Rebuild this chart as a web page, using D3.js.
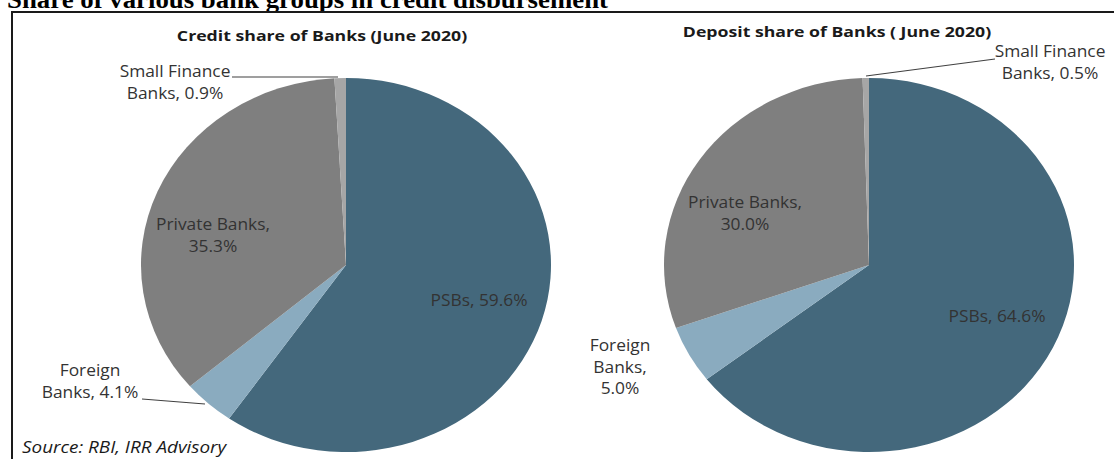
<!DOCTYPE html>
<html lang="en">
<head>
  <meta charset="UTF-8">
  <title>Share of various bank groups in credit disbursement</title>
  <script src="https://cdn.jsdelivr.net/npm/d3@7"></script>
  <style>
    body {
      margin: 0;
      padding: 0;
      background: #fff;
    }
    svg text {
      font-family: "Open Sans", sans-serif;
    }
  </style>
</head>
<body>
  <svg id="chart" width="1114" height="459"></svg>

  <script>
    // data
    var categories = ["PSBs", "Foreign Banks", "Private Banks", "Small Finance Banks"];
    var creditShares = [59.6, 4.1, 35.3, 0.9];
    var depositShares = [64.6, 5.0, 30.0, 0.5];

    var colors = ["#44687c", "#8aabbf", "#7f7f7f", "#a6a6a6"];

    // label layout (each label line + optional leader line)
    var creditLabels = [
      { lines: ["PSBs, 59.6%"], x: 479, y: 302 },
      { lines: ["Foreign", "Banks, 4.1%"], x: 90, y: 372, leader: [[142, 399], [205, 404]] },
      { lines: ["Private Banks,", "35.3%"], x: 213, y: 226 },
      { lines: ["Small Finance", "Banks, 0.9%"], x: 175, y: 73, leader: [[232, 77], [338, 77]] }
    ];
    var depositLabels = [
      { lines: ["PSBs, 64.6%"], x: 997, y: 318 },
      { lines: ["Foreign", "Banks,", "5.0%"], x: 620, y: 347 },
      { lines: ["Private Banks,", "30.0%"], x: 745, y: 204 },
      { lines: ["Small Finance", "Banks, 0.5%"], x: 1050, y: 53, leader: [[995, 59], [866, 76]] }
    ];

    var svg = d3.select("#chart");

    // text stretched a bit sideways, the source image is wider than the font
    function stretchedText(x, y, sx) {
      return svg.append("text")
        .attr("transform", "translate(" + x + "," + y + ") scale(" + sx + ",1)");
    }

    // page heading (cut off at top like the source)
    svg.append("text")
      .attr("x", 7)
      .attr("y", 8)
      .style("font-family", "'Liberation Serif', 'Times New Roman', serif")
      .attr("font-size", 25)
      .attr("font-weight", "bold")
      .attr("fill", "#000")
      .attr("textLength", 601)
      .attr("lengthAdjust", "spacingAndGlyphs")
      .text("Share of various bank groups in credit disbursement");

    // frame
    svg.append("path")
      .attr("d", "M12,470 L12,12 L1120,12")
      .attr("fill", "none")
      .attr("stroke", "#1a1a1a")
      .attr("stroke-width", 2);

    var rx = 205, ry = 187;
    var pie = d3.pie().sort(null).value(d => d.value);
    var arc = d3.arc().innerRadius(0).outerRadius(rx);

    function drawPie(title, titleX, titleY, values, cx, cy, labels) {
      var data = categories.map((c, i) => ({ name: c, value: values[i], color: colors[i] }));

      stretchedText(titleX, titleY, 1.18)
        .attr("text-anchor", "middle")
        .attr("dominant-baseline", "middle")
        .attr("font-size", 15)
        .attr("font-weight", "bold")
        .attr("fill", "#1a1a1a")
        .text(title);

      var g = svg.append("g")
        .attr("transform", "translate(" + cx + "," + cy + ") scale(1," + (ry / rx) + ")");

      g.selectAll("path")
        .data(pie(data))
        .enter()
        .append("path")
        .attr("d", arc)
        .attr("fill", d => d.data.color);

      labels.forEach(function (l) {
        if (l.leader) {
          svg.append("line")
            .attr("x1", l.leader[0][0]).attr("y1", l.leader[0][1])
            .attr("x2", l.leader[1][0]).attr("y2", l.leader[1][1])
            .attr("stroke", "#404040")
            .attr("stroke-width", 1.2);
        }
        var t = stretchedText(l.x, l.y, 1.12)
          .attr("text-anchor", "middle")
          .attr("fill", "#333")
          .attr("font-size", 15.5);
        l.lines.forEach(function (line, i) {
          t.append("tspan")
            .attr("x", 0)
            .attr("y", i * 21.5)
            .attr("dominant-baseline", "middle")
            .text(line);
        });
      });
    }

    drawPie("Credit share of Banks (June 2020)", 322, 37, creditShares, 346, 265, creditLabels);
    drawPie("Deposit share of Banks ( June 2020)", 837, 33, depositShares, 869, 265, depositLabels);

    // source note
    stretchedText(22, 449, 1.18)
      .attr("dominant-baseline", "middle")
      .attr("font-size", 16)
      .attr("font-style", "italic")
      .attr("fill", "#1a1a1a")
      .text("Source: RBI, IRR Advisory");
  </script>
</body>
</html>
